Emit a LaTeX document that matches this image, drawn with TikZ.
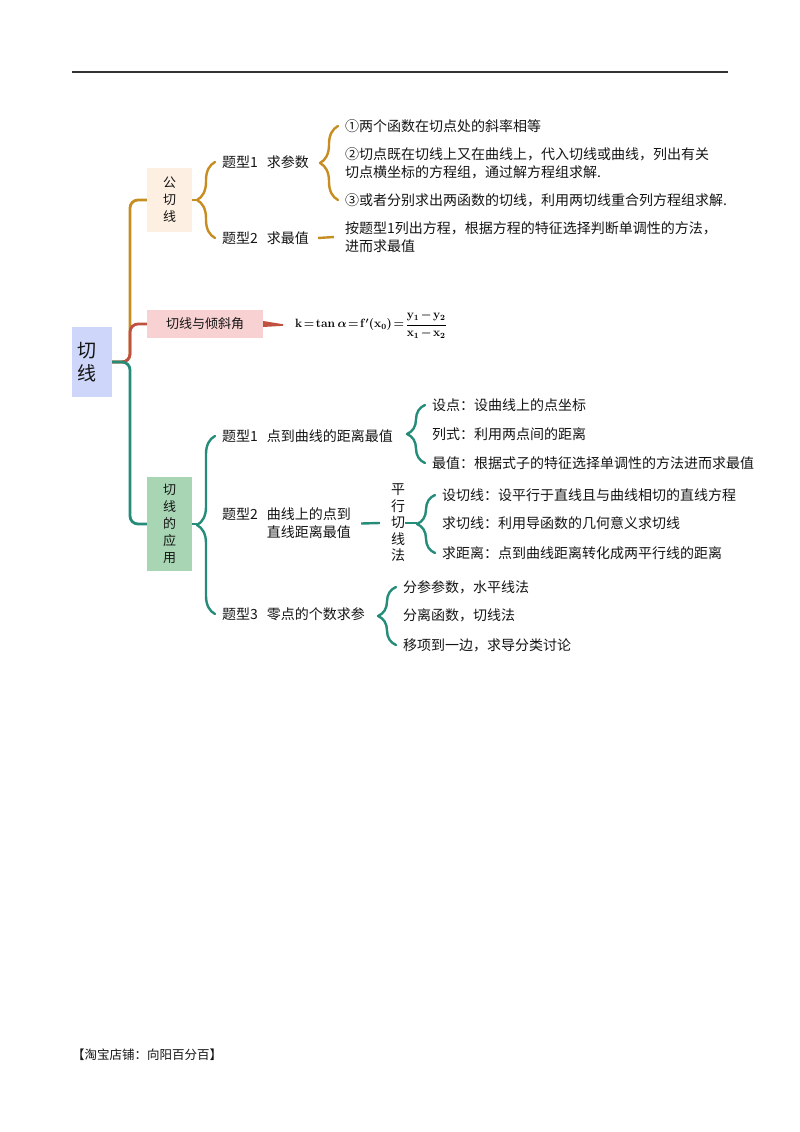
\documentclass[tikz,border=0pt]{standalone}
\usepackage{amsmath}
\usepackage[no-math]{fontspec}
\newfontfamily\cjk{Noto Sans CJK SC}
\usetikzlibrary{positioning,calc,decorations.pathreplacing}
\definecolor{gqgold}{RGB}{198,142,34}
\definecolor{tqred}{RGB}{192,80,64}
\definecolor{yyteal}{RGB}{38,140,122}
\definecolor{rootbg}{RGB}{206,214,250}
\definecolor{gqbg}{RGB}{253,239,226}
\definecolor{tqbg}{RGB}{248,210,210}
\definecolor{yybg}{RGB}{168,214,180}
\definecolor{txt}{RGB}{20,20,20}

\tikzset{
  rootbox/.style={fill=rootbg, minimum width=40pt, minimum height=70pt, inner sep=0pt,
    text width=30pt, align=left, text=txt, font=\cjk\fontsize{19}{23}\selectfont},
  catbox/.style={inner sep=0pt, align=center, text=txt, font=\cjk\fontsize{13}{17}\selectfont},
  item/.style={anchor=west, inner sep=0pt, align=left, text=txt, font=\cjk\fontsize{14}{18}\selectfont},
  branch/.style={line width=2.8pt, rounded corners=8pt},
  cbrace/.style={decorate, decoration={brace, amplitude=18pt}, line width=2.4pt, line cap=round, line join=round},
  stem/.style={line width=2.4pt},
}

\begin{document}
\begin{tikzpicture}[x=1pt, y=-1pt]
\useasboundingbox (0,0) rectangle (800,1132);
\draw[line width=1.8pt, black!80] (72,72) -- (728,72);

% main boxes
\node[rootbox] (root) at (92,362) {切\\线};
\node[catbox, fill=gqbg, minimum width=45pt, minimum height=64pt] (gq) at (169.5,200) {公\\切\\线};
\node[catbox, fill=tqbg, minimum width=116pt, minimum height=28pt] (tq) at (205,324) {切线与倾斜角};
\node[catbox, fill=yybg, minimum width=45pt, minimum height=94pt] (yy) at (169.5,524) {切\\线\\的\\应\\用};

% 公切线
\node[item] (gq1) at (222,162) {题型1\hspace{9pt}求参数};
\node[item] (gq2) at (222,238) {题型2\hspace{9pt}求最值};
\node[item] (c1) at (345,126) {①两个函数在切点处的斜率相等};
\node[item] (c2) at (345,163) {②切点既在切线上又在曲线上，代入切线或曲线，列出有关\\切点横坐标的方程组，通过解方程组求解.};
\node[item] (c3) at (345,200) {③或者分别求出两函数的切线，利用两切线重合列方程组求解.};
\node[item] (qz) at (345,237) {按题型1列出方程，根据方程的特征选择判断单调性的方法，\\进而求最值};

% 切线与倾斜角
\node[anchor=west, inner sep=0pt, font=\fontsize{12}{14}\selectfont\boldmath] (fm) at (295,325)
  {\thickmuskip=2mu \medmuskip=2mu
   $\mathbf{k}=\mathbf{tan}\,\alpha=\mathbf{f}'(\mathbf{x}_0)=\dfrac{\mathbf{y}_1-\mathbf{y}_2}{\mathbf{x}_1-\mathbf{x}_2}$};

% 切线的应用
\node[item] (a1) at (222,436) {题型1\hspace{9pt}点到曲线的距离最值};
\node[item] (a2) at (222,523.5) {题型2\hspace{9pt}曲线上的点到\\\phantom{题型2\hspace{9pt}}直线距离最值};
\node[item] (a3) at (222,614) {题型3\hspace{9pt}零点的个数求参};
\node[item] (d1) at (432,405) {设点：设曲线上的点坐标};
\node[item] (d2) at (432,434) {列式：利用两点间的距离};
\node[item] (d3) at (432,463) {最值：根据式子的特征选择单调性的方法进而求最值};
\node[item, anchor=center, align=center, font=\cjk\fontsize{14}{16.5}\selectfont] (px) at (398,523) {平\\行\\切\\线\\法};
\node[item] (p1) at (442,495) {设切线：设平行于直线且与曲线相切的直线方程};
\node[item] (p2) at (442,523) {求切线：利用导函数的几何意义求切线};
\node[item] (p3) at (442,553) {求距离：点到曲线距离转化成两平行线的距离};
\node[item] (e1) at (403,587) {分参参数，水平线法};
\node[item] (e2) at (403,615) {分离函数，切线法};
\node[item] (e3) at (403,645) {移项到一边，求导分类讨论};

\node[item, font=\cjk\fontsize{12.5}{15}\selectfont] (shop) at (72,1055) {【淘宝店铺：向阳百分百】};

% root branches
\coordinate (sp) at (130,0);
\draw[branch, gqgold] (root.east) -- (root.east -| sp) |- (gq.west);
\draw[branch, tqred] (root.east) -- (root.east -| sp) |- (tq.west);
\draw[branch, yyteal] (root.east) -- (root.east -| sp) |- (yy.west);

% braces
\draw[cbrace, gqgold] ([xshift=-7pt]gq2.west) -- ([xshift=-7pt]gq1.west);
\draw[cbrace, gqgold] ([xshift=-7pt]c3.west) -- ([xshift=-7pt]c1.west);
\draw[cbrace, yyteal] ([xshift=-7pt]a3.west) -- ([xshift=-7pt]a1.west);
\draw[cbrace, yyteal] ([xshift=-7pt]d3.west) -- ([xshift=-7pt]d1.west);
\draw[cbrace, yyteal] ([xshift=-7pt]p3.west) -- ([xshift=-7pt]p1.west);
\draw[cbrace, yyteal] ([xshift=-7pt]e3.west) -- ([xshift=-7pt]e1.west);
\draw[stem, gqgold] (gq.east) -- ([xshift=-25pt]gq.east -| gq1.west);
\draw[stem, yyteal] (yy.east) -- ([xshift=-25pt]yy.east -| a1.west);
\draw[stem, yyteal] (px.east) -- ([xshift=-25pt]px.east -| p1.west);

% short links
\draw[stem, gqgold] ([xshift=9pt]gq2.east) -- ([xshift=-11pt]qz.west);
\draw[stem, yyteal] ([xshift=10pt]a2.east) -- ([xshift=-11pt]px.west);
\fill[tqred] ([yshift=3pt]tq.east) -- ([yshift=-3pt]tq.east)
  -- ([xshift=-12pt, yshift=-0.8pt]fm.west) -- ([xshift=-12pt, yshift=0.8pt]fm.west) -- cycle;
\end{tikzpicture}
\end{document}
